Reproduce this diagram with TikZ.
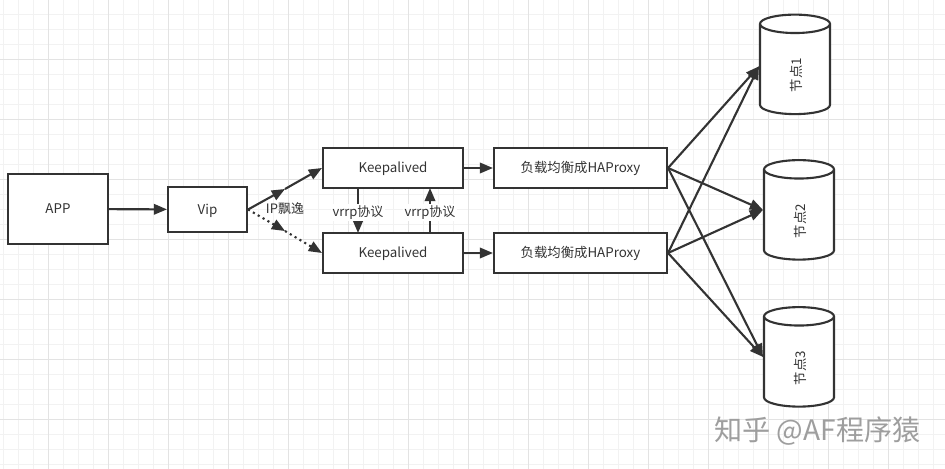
\documentclass[tikz,border=0pt]{standalone}
\usepackage{fontspec}
\setmainfont{Noto Sans CJK SC}
\usetikzlibrary{arrows.meta,shapes.geometric}
\definecolor{ink}{HTML}{333333}
\tikzset{
  box/.style={draw=ink,line width=1.2pt,fill=white,text=ink,font=\fontsize{7.6}{9}\selectfont,inner sep=0pt,text height=7.6pt,text depth=2pt},
  db/.style={cylinder,rotate=90,draw=ink,line width=1.2pt,fill=white,font=\fontsize{7.6}{9}\selectfont,minimum width=1.4cm,minimum height=1.99cm,aspect=1.5,inner sep=0pt},
  dbtext/.style={rotate=90,text=ink,font=\fontsize{7.6}{9}\selectfont,inner sep=0pt},
  link/.style={draw=ink,line width=1.2pt,-{Triangle[length=7.5pt,width=6pt]}},
  tag/.style={text=ink,font=\fontsize{7.4}{9}\selectfont,inner sep=1pt}
}
\begin{document}
\begin{tikzpicture}[x=0.02cm,y=-0.02cm]
     \useasboundingbox (0,0) rectangle (945,469);
     \fill[white] (0,0) rectangle (945,469);
     \foreach \x in {3,18,...,945} \draw[color=black!5,line width=0.5pt] (\x,0)--(\x,469);
     \foreach \y in {14,29,...,469} \draw[color=black!5,line width=0.5pt] (0,\y)--(945,\y);
     \foreach \x in {48,108,...,945} \draw[color=black!11,line width=0.5pt] (\x,0)--(\x,469);
     \foreach \y in {59,119,...,469} \draw[color=black!11,line width=0.5pt] (0,\y)--(945,\y);
     \node[box,minimum width=2cm,minimum height=1.4cm] (app) at (58,209) {APP};
     \node[box,minimum width=1.58cm,minimum height=0.9cm] (vip) at (207.5,209.5) {Vip};
     \node[box,minimum width=2.8cm,minimum height=0.8cm] (keepA) at (393,168) {Keepalived};
     \node[box,minimum width=2.8cm,minimum height=0.8cm] (keepB) at (393,253) {Keepalived};
     \node[box,minimum width=3.46cm,minimum height=0.8cm] (haA) at (580.5,168) {负载均衡成HAProxy};
     \node[box,minimum width=3.46cm,minimum height=0.8cm] (haB) at (580.5,253) {负载均衡成HAProxy};
     \node[db] (nodeA) at (795,69.5) {\phantom{节点1}};
     \node[db] (nodeB) at (799,215) {\phantom{节点2}};
     \node[db] (nodeC) at (799,362) {\phantom{节点3}};
     \node[dbtext] (textA) at (796,75) {节点1};
     \node[dbtext] (textB) at (800,221) {节点2};
     \node[dbtext] (textC) at (800,368) {节点3};
     \coordinate (midA) at (285,189);
     \coordinate (midB) at (285,231);
     \coordinate (downA) at (358,188);
     \coordinate (downB) at (358,233);
     \coordinate (upA) at (430,233);
     \coordinate (upB) at (430,188);
     \draw[link] (app)--(vip);
     \draw[link] (vip.east)--(midA);
     \draw[link] (midA)--(keepA.west);
     \draw[link,dotted] (vip.east)--(midB);
     \draw[link,dotted] (midB)--(keepB.west);
     \draw[link] (keepA)--(haA);
     \draw[link] (keepB)--(haB);
     \draw[link] (downA)--(downB) node[midway,yshift=-1pt,fill=white,tag] (vrrpA) {vrrp协议};
     \draw[link] (upA)--(upB) node[midway,yshift=-1pt,fill=white,tag] (vrrpB) {vrrp协议};
     \foreach \ha in {haA,haB} \foreach \db in {nodeA.85,nodeB.82,nodeC.82} \draw[link] (\ha.east)--(\db);
     \node[tag] (drift) at (285,209) {IP飘逸};
     \node[text=black!38,font=\fontsize{16}{18}\selectfont,inner sep=0pt] (mark) at (817.5,431) {知乎 @AF程序猿};
\end{tikzpicture}
\end{document}
